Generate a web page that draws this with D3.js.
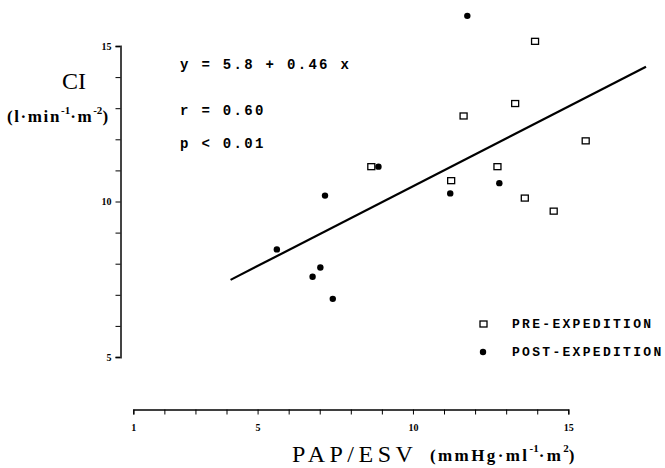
<!DOCTYPE html>
<html>
<head>
<meta charset="utf-8">
<script src="https://cdn.jsdelivr.net/npm/d3@7"></script>
<style>
  body { margin: 0; background: #fff; }
  .tick text { font-family: "Liberation Serif", serif; font-weight: bold; font-size: 10px; }
</style>
</head>
<body>
<div id="chart"></div>
<script>
// values
let preX = [13.93, 13.29, 11.63, 15.56, 8.66, 12.72, 11.23, 13.6, 14.53];
let preY = [15.15, 13.15, 12.75, 11.95, 11.12, 11.12, 10.67, 10.11, 9.69];
let postX = [11.75, 8.89, 7.17, 11.2, 12.78, 5.62, 7.02, 6.77, 7.42];
let postY = [15.97, 11.12, 10.19, 10.26, 10.59, 8.46, 7.88, 7.58, 6.87];
let fitX = [4.13, 17.5];
let fitY = [7.48, 14.33];
let xTicks = d3.range(1, 16);
let yTicks = d3.range(5, 16);
let xLabels = [1, 5, 10, 15];
let yLabels = [5, 10, 15];

let width = 665,
    height = 468;

let x = d3.scaleLinear().domain([1, 15]).range([133.3, 568.3]);
let y = d3.scaleLinear().domain([5, 15]).range([357, 46]);

let svg = d3.select("#chart")
    .append("svg")
    .attr("width", width)
    .attr("height", height);

// y axis
let yAxis = svg.append("g")
    .attr("transform", "translate(120.5,0)")
    .call(d3.axisLeft(y)
        .tickValues(yTicks)
        .tickSize(5)
        .tickPadding(4)
        .tickFormat(d => yLabels.includes(d) ? d : ""));
yAxis.select(".domain").attr("stroke", "#444").attr("stroke-width", 2);

// x axis
let xAxis = svg.append("g")
    .attr("transform", "translate(0,409.5)")
    .call(d3.axisBottom(x)
        .tickValues(xTicks)
        .tickSize(5)
        .tickPadding(9)
        .tickFormat(d => xLabels.includes(d) ? d : ""));
xAxis.select(".domain").attr("stroke-width", 1.3);

// regression line
let line = d3.line()
    .x(d => x(d[0]))
    .y(d => y(d[1]));
svg.append("path")
    .datum(d3.zip(fitX, fitY))
    .attr("d", line)
    .attr("fill", "none")
    .attr("stroke", "#000")
    .attr("stroke-width", 2.2);

// points
svg.selectAll(".pre")
    .data(d3.zip(preX, preY))
    .enter().append("rect")
    .attr("class", "pre")
    .attr("x", d => x(d[0]) - 3.5)
    .attr("y", d => y(d[1]) - 3)
    .attr("width", 7)
    .attr("height", 6)
    .attr("fill", "#fff")
    .attr("stroke", "#000")
    .attr("stroke-width", 1.3);

svg.selectAll(".post")
    .data(d3.zip(postX, postY))
    .enter().append("circle")
    .attr("class", "post")
    .attr("cx", d => x(d[0]))
    .attr("cy", d => y(d[1]))
    .attr("r", 3.2)
    .attr("fill", "#000");

// statistics text
let mono = svg.append("g")
    .attr("font-family", "Liberation Mono, monospace")
    .attr("font-weight", "bold")
    .attr("font-size", 14)
    .attr("letter-spacing", 2.3);
mono.append("text").attr("x", 180).attr("y", 69).text("y = 5.8 + 0.46 x");
mono.append("text").attr("x", 180).attr("y", 115).text("r = 0.60");
mono.append("text").attr("x", 180).attr("y", 148).text("p < 0.01");

// y title
svg.append("text")
    .attr("x", 74).attr("y", 89)
    .attr("text-anchor", "middle")
    .attr("font-family", "Liberation Serif, serif")
    .attr("font-size", 24)
    .text("CI");

let yUnit = svg.append("text")
    .attr("x", 7).attr("y", 122)
    .attr("font-family", "Liberation Serif, serif")
    .attr("font-weight", "bold")
    .attr("font-size", 17)
    .attr("letter-spacing", 1.6);
yUnit.append("tspan").text("(l·min");
yUnit.append("tspan").attr("dy", -8).attr("font-size", 11).attr("letter-spacing", 0).text("-1");
yUnit.append("tspan").attr("dy", 8).text("·m");
yUnit.append("tspan").attr("dy", -8).attr("font-size", 11).attr("letter-spacing", 0).text("-2");
yUnit.append("tspan").attr("dy", 8).text(")");

// x title
svg.append("text")
    .attr("x", 292).attr("y", 462)
    .attr("font-family", "Liberation Serif, serif")
    .attr("font-size", 24)
    .attr("letter-spacing", 4.5)
    .text("PAP/ESV");

let xUnit = svg.append("text")
    .attr("x", 430).attr("y", 461)
    .attr("font-family", "Liberation Serif, serif")
    .attr("font-weight", "bold")
    .attr("font-size", 17)
    .attr("letter-spacing", 2.4);
xUnit.append("tspan").text("(mmHg·ml");
xUnit.append("tspan").attr("dy", -9).attr("font-size", 11).attr("letter-spacing", 0).text("-1");
xUnit.append("tspan").attr("dy", 9).text("·m");
xUnit.append("tspan").attr("dy", -9).attr("font-size", 11).attr("letter-spacing", 0).text("2");
xUnit.append("tspan").attr("dy", 9).text(")");

// legend
let legend = svg.append("g")
    .attr("font-family", "Liberation Mono, monospace")
    .attr("font-weight", "bold")
    .attr("font-size", 13)
    .attr("letter-spacing", 2.3);
legend.append("rect")
    .attr("x", 480).attr("y", 321)
    .attr("width", 7).attr("height", 6)
    .attr("fill", "#fff").attr("stroke", "#000").attr("stroke-width", 1.3);
legend.append("text").attr("x", 512).attr("y", 328).text("PRE-EXPEDITION");
legend.append("circle")
    .attr("cx", 483).attr("cy", 352).attr("r", 3.2).attr("fill", "#000");
legend.append("text").attr("x", 512).attr("y", 356).text("POST-EXPEDITION");
</script>
</body>
</html>
